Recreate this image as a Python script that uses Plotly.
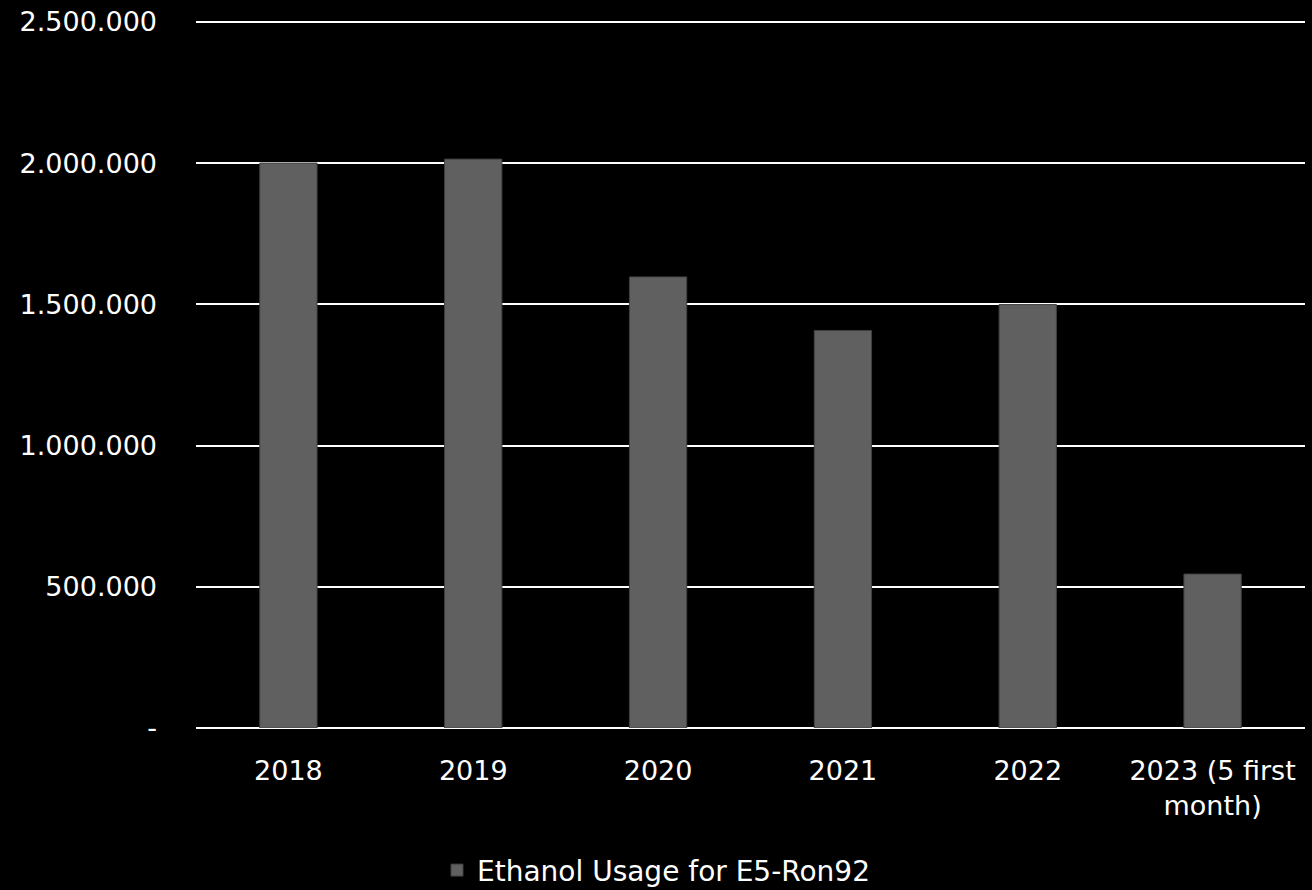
import plotly.graph_objects as go

categories = ["2018", "2019", "2020", "2021", "2022", "2023 (5 first<br>month)"]
values = [2000000, 2014000, 1597000, 1407000, 1499000, 545000]
series_name = "Ethanol Usage for E5-Ron92"
y_tickvals = [0, 500000, 1000000, 1500000, 2000000, 2500000]
y_ticktext = ["-", "500.000", "1.000.000", "1.500.000", "2.000.000", "2.500.000"]

FONT = "'DejaVu Sans', sans-serif"

fig = go.Figure()
fig.add_trace(go.Bar(
    x=categories,
    y=values,
    name=series_name,
    marker=dict(color="#606060", line=dict(color="#404040", width=1)),
    showlegend=True,
))

fig.update_layout(
    width=1312,
    height=890,
    paper_bgcolor="#000000",
    plot_bgcolor="#000000",
    margin=dict(l=196, r=7, t=19, b=162),
    bargap=0.69,
    font=dict(family=FONT, size=27, color="#ffffff"),
    showlegend=True,
    legend=dict(
        orientation="h",
        x=0.5, xanchor="center",
        xref="container",
        yref="container",
        y=0.022, yanchor="middle",
        font=dict(family=FONT, size=28, color="#ffffff"),
    ),
    xaxis=dict(
        showgrid=False,
        showline=False,
        ticks="",
        ticklabelstandoff=24,
        tickfont=dict(family=FONT, size=27, color="#ffffff"),
    ),
    yaxis=dict(
        range=[0, 2510000],
        tickvals=y_tickvals,
        ticktext=y_ticktext,
        showgrid=True,
        gridcolor="#ffffff",
        gridwidth=1.5,
        zeroline=True,
        zerolinecolor="#ffffff",
        zerolinewidth=1.5,
        showline=False,
        ticks="",
        ticklabelstandoff=38,
        tickfont=dict(family=FONT, size=27, color="#ffffff"),
    ),
)

fig.write_html(
    "out.html",
    config={"displayModeBar": False},
    post_script="document.body.style.margin='0';document.body.style.background='#000';",
)
